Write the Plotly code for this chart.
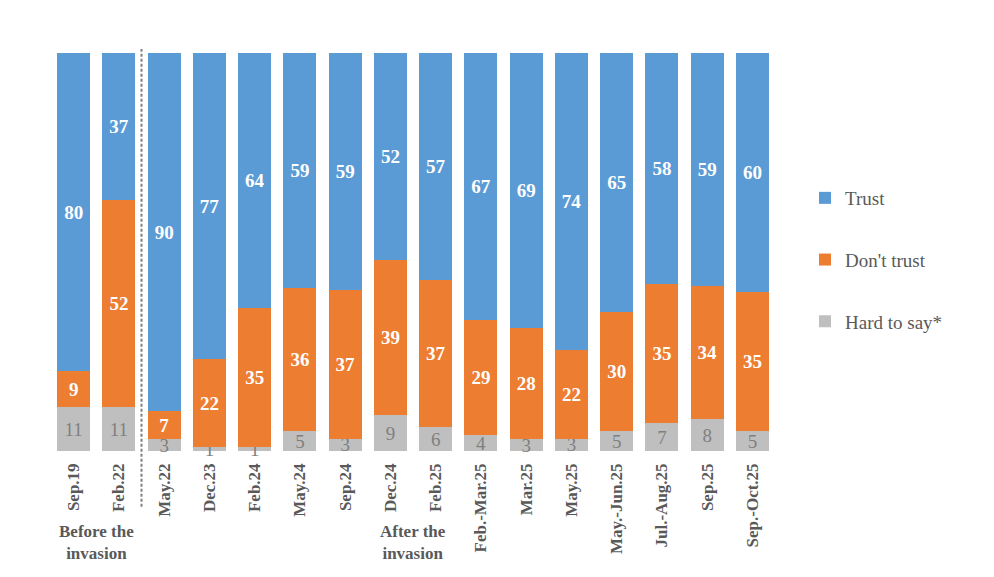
import plotly.graph_objects as go

categories = ["Sep.19", "Feb.22", "May.22", "Dec.23", "Feb.24", "May.24", "Sep.24",
              "Dec.24", "Feb.25", "Feb.-Mar.25", "Mar.25", "May.25", "May.-Jun.25",
              "Jul.-Aug.25", "Sep.25", "Sep.-Oct.25"]
trust = [80, 37, 90, 77, 64, 59, 59, 52, 57, 67, 69, 74, 65, 58, 59, 60]
dont_trust = [9, 52, 7, 22, 35, 36, 37, 39, 37, 29, 28, 22, 30, 35, 34, 35]
hard_to_say = [11, 11, 3, 1, 1, 5, 3, 9, 6, 4, 3, 3, 5, 7, 8, 5]

FONT = "Liberation Serif"
LABEL_GRAY = "#595959"

x = list(range(len(categories)))

fig = go.Figure()
series = [
    ("Hard to say*", hard_to_say, "#BFBFBF", "#7F7F7F", "normal", 3),
    ("Don't trust", dont_trust, "#ED7D31", "white", "bold", 2),
    ("Trust", trust, "#5B9BD5", "white", "bold", 1),
]
for name, vals, col, tcol, tw, rank in series:
    fig.add_trace(go.Bar(
        x=x, y=vals, name=name, marker=dict(color=col, line=dict(width=0)),
        text=vals, texttemplate="%{text}", textposition="inside",
        insidetextanchor="middle", textangle=0,
        insidetextfont=dict(family=FONT, size=19, color=tcol, weight=tw),
        legendgroup=name, legendrank=rank, cliponaxis=False,
    ))

W, H = 986, 569
fig.update_layout(
    width=W, height=H,
    margin=dict(l=43, r=219, t=45, b=126),
    barmode="stack", barnorm="percent", bargap=0.27,
    plot_bgcolor="white", paper_bgcolor="white",
    uniformtext=dict(minsize=18, mode="show"),
    font=dict(family=FONT, color=LABEL_GRAY),
    xaxis=dict(tickmode="array", tickvals=x, ticktext=categories, tickangle=-90,
               range=[-0.5, len(categories) - 0.5], showgrid=False, zeroline=False,
               showline=False, ticks="", ticklabelstandoff=8,
               tickfont=dict(family=FONT, size=17, color=LABEL_GRAY, weight="bold")),
    yaxis=dict(range=[0, 100], visible=False),
    legend=dict(xref="container", yref="container", x=797 / W, y=1 - 171 / H,
                xanchor="left", yanchor="top", traceorder="grouped",
                tracegroupgap=34, font=dict(family=FONT, size=19, color=LABEL_GRAY),
                itemwidth=30),
    showlegend=True,
)

fig.add_shape(type="line", xref="x", yref="paper", x0=1.5, x1=1.5,
              y0=-0.14, y1=1.01, line=dict(color="#808080", width=2, dash="3px,2px"))

fig.add_annotation(x=0.5, xref="x", y=-0.231, yref="paper", yanchor="middle",
                   text="Before the<br>invasion", showarrow=False,
                   font=dict(family=FONT, size=17, color=LABEL_GRAY, weight="bold"))
fig.add_annotation(x=7.5, xref="x", y=-0.231, yref="paper", yanchor="middle",
                   text="After the<br>invasion", showarrow=False,
                   font=dict(family=FONT, size=17, color=LABEL_GRAY, weight="bold"))

fig.write_html("out.html")
